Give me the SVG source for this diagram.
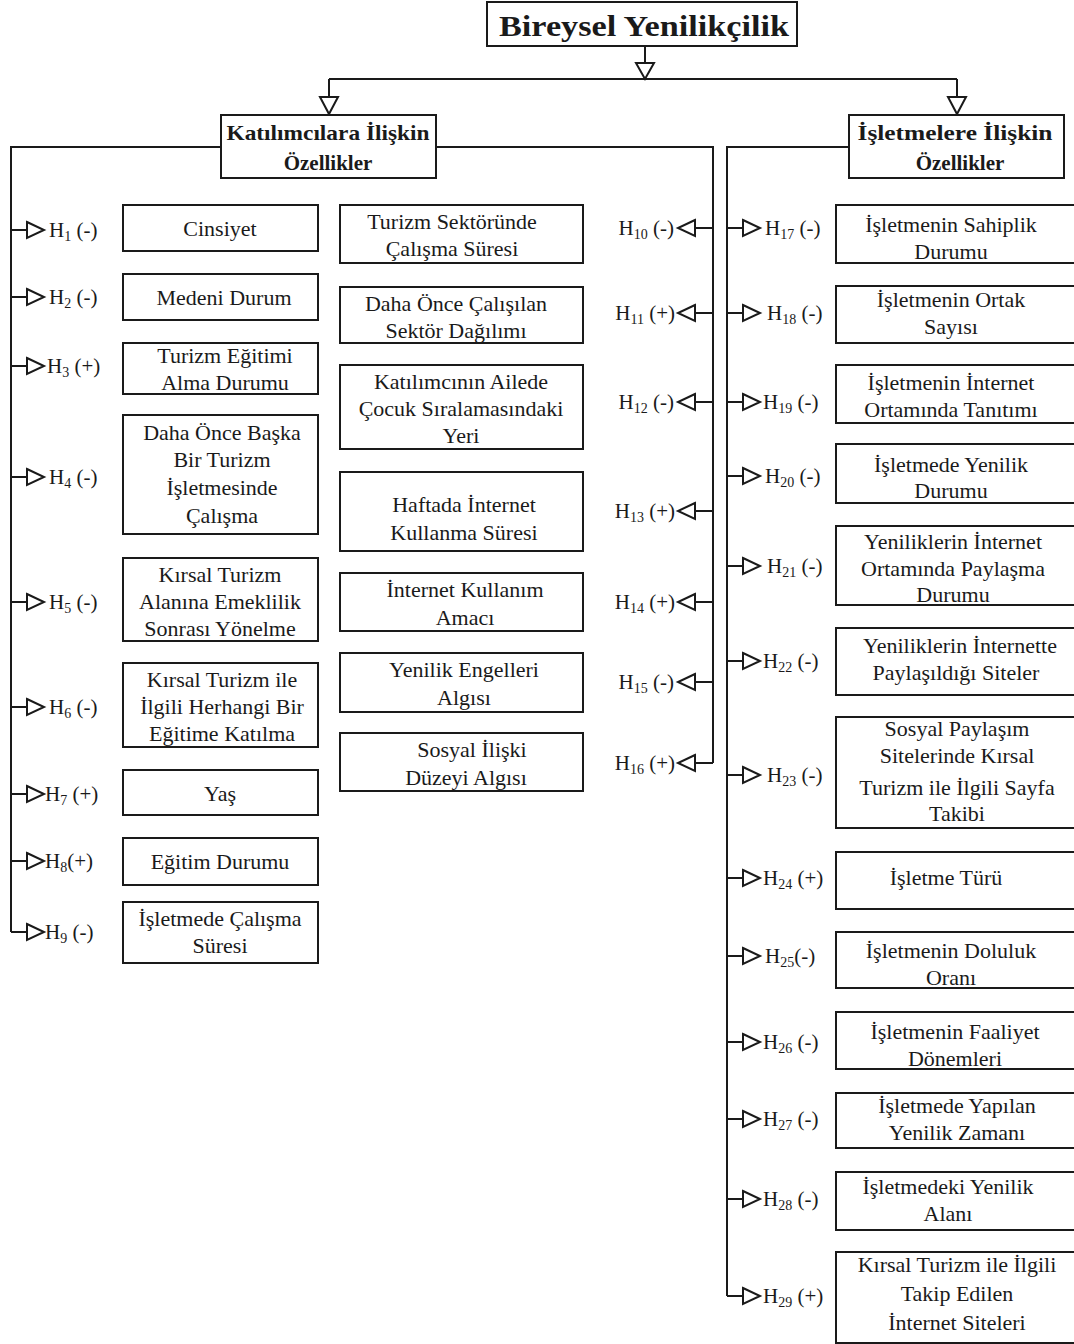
<svg xmlns="http://www.w3.org/2000/svg" width="1074" height="1344" viewBox="0 0 1074 1344">
<style>
.bx{fill:#fff;stroke:#1a1a1a;stroke-width:2}
.ln{fill:none;stroke:#1a1a1a;stroke-width:2}
.ar{fill:#fff;stroke:#1a1a1a;stroke-width:2;stroke-linejoin:miter}
.t{font-family:"Liberation Serif","DejaVu Serif",serif;font-size:22px;fill:#1a1a1a;text-anchor:middle}
.h{font-family:"Liberation Serif","DejaVu Serif",serif;font-size:21px;font-weight:bold;fill:#1a1a1a;text-anchor:middle}
.lb{font-family:"Liberation Serif","DejaVu Serif",serif;font-size:21px;fill:#1a1a1a}
.lbe{font-family:"Liberation Serif","DejaVu Serif",serif;font-size:21px;fill:#1a1a1a;text-anchor:end}
.s{font-size:14px}
</style>
<rect width="1074" height="1344" fill="#fff"/>

<g id="connectors">
  <path class="ln" d="M645,46 V63 M329,79 H957 M329,79 V97 M957,79 V97"/>
  <polygon class="ar" points="636,63 654,63 645,79"/>
  <polygon class="ar" points="320,97 338,97 329,114"/>
  <polygon class="ar" points="948,97 966,97 957,114"/>
  <path class="ln" d="M221,147 H11 V932"/>
  <path class="ln" d="M436,147 H713 V763"/>
  <path class="ln" d="M849,147 H727 V1296"/>
  <g id="left-branches">
    <path class="ln" d="M11,230 H27 M11,297 H27 M11,366 H27 M11,477 H27 M11,602 H27 M11,707 H27 M11,794 H27 M11,861 H27 M11,932 H27"/>
    <polygon class="ar" points="27,222 44,230 27,238"/>
    <polygon class="ar" points="27,289 44,297 27,305"/>
    <polygon class="ar" points="27,358 44,366 27,374"/>
    <polygon class="ar" points="27,469 44,477 27,485"/>
    <polygon class="ar" points="27,594 44,602 27,610"/>
    <polygon class="ar" points="27,699 44,707 27,715"/>
    <polygon class="ar" points="27,786 44,794 27,802"/>
    <polygon class="ar" points="27,853 44,861 27,869"/>
    <polygon class="ar" points="27,924 44,932 27,940"/>
  </g>
  <g id="middle-branches">
    <path class="ln" d="M713,228 H695 M713,313 H695 M713,402 H695 M713,511 H695 M713,602 H695 M713,682 H695 M713,763 H695"/>
    <polygon class="ar" points="695,220 678,228 695,236"/>
    <polygon class="ar" points="695,305 678,313 695,321"/>
    <polygon class="ar" points="695,394 678,402 695,410"/>
    <polygon class="ar" points="695,503 678,511 695,519"/>
    <polygon class="ar" points="695,594 678,602 695,610"/>
    <polygon class="ar" points="695,674 678,682 695,690"/>
    <polygon class="ar" points="695,755 678,763 695,771"/>
  </g>
  <g id="right-branches">
    <path class="ln" d="M727,228 H743 M727,313 H743 M727,402 H743 M727,476 H743 M727,566 H743 M727,661 H743 M727,775 H743 M727,878 H743 M727,956 H743 M727,1042 H743 M727,1119 H743 M727,1199 H743 M727,1296 H743"/>
    <polygon class="ar" points="743,220 760,228 743,236"/>
    <polygon class="ar" points="743,305 760,313 743,321"/>
    <polygon class="ar" points="743,394 760,402 743,410"/>
    <polygon class="ar" points="743,468 760,476 743,484"/>
    <polygon class="ar" points="743,558 760,566 743,574"/>
    <polygon class="ar" points="743,653 760,661 743,669"/>
    <polygon class="ar" points="743,767 760,775 743,783"/>
    <polygon class="ar" points="743,870 760,878 743,886"/>
    <polygon class="ar" points="743,948 760,956 743,964"/>
    <polygon class="ar" points="743,1034 760,1042 743,1050"/>
    <polygon class="ar" points="743,1111 760,1119 743,1127"/>
    <polygon class="ar" points="743,1191 760,1199 743,1207"/>
    <polygon class="ar" points="743,1288 760,1296 743,1304"/>
  </g>
  <g id="labels">
    <text class="lb" x="49" y="237">H<tspan class="s" dy="4">1</tspan><tspan dy="-4"> (-)</tspan></text>
    <text class="lb" x="49" y="304">H<tspan class="s" dy="4">2</tspan><tspan dy="-4"> (-)</tspan></text>
    <text class="lb" x="47" y="373">H<tspan class="s" dy="4">3</tspan><tspan dy="-4"> (+)</tspan></text>
    <text class="lb" x="49" y="484">H<tspan class="s" dy="4">4</tspan><tspan dy="-4"> (-)</tspan></text>
    <text class="lb" x="49" y="609">H<tspan class="s" dy="4">5</tspan><tspan dy="-4"> (-)</tspan></text>
    <text class="lb" x="49" y="714">H<tspan class="s" dy="4">6</tspan><tspan dy="-4"> (-)</tspan></text>
    <text class="lb" x="45" y="801">H<tspan class="s" dy="4">7</tspan><tspan dy="-4"> (+)</tspan></text>
    <text class="lb" x="45" y="868">H<tspan class="s" dy="4">8</tspan><tspan dy="-4">(+)</tspan></text>
    <text class="lb" x="45" y="939">H<tspan class="s" dy="4">9</tspan><tspan dy="-4"> (-)</tspan></text>

    <text class="lbe" x="674" y="235">H<tspan class="s" dy="4">10</tspan><tspan dy="-4"> (-)</tspan></text>
    <text class="lbe" x="675" y="320">H<tspan class="s" dy="4">11</tspan><tspan dy="-4"> (+)</tspan></text>
    <text class="lbe" x="674" y="409">H<tspan class="s" dy="4">12</tspan><tspan dy="-4"> (-)</tspan></text>
    <text class="lbe" x="675" y="518">H<tspan class="s" dy="4">13</tspan><tspan dy="-4"> (+)</tspan></text>
    <text class="lbe" x="675" y="609">H<tspan class="s" dy="4">14</tspan><tspan dy="-4"> (+)</tspan></text>
    <text class="lbe" x="674" y="689">H<tspan class="s" dy="4">15</tspan><tspan dy="-4"> (-)</tspan></text>
    <text class="lbe" x="675" y="770">H<tspan class="s" dy="4">16</tspan><tspan dy="-4"> (+)</tspan></text>

    <text class="lb" x="765" y="235">H<tspan class="s" dy="4">17</tspan><tspan dy="-4"> (-)</tspan></text>
    <text class="lb" x="767" y="320">H<tspan class="s" dy="4">18</tspan><tspan dy="-4"> (-)</tspan></text>
    <text class="lb" x="763" y="409">H<tspan class="s" dy="4">19</tspan><tspan dy="-4"> (-)</tspan></text>
    <text class="lb" x="765" y="483">H<tspan class="s" dy="4">20</tspan><tspan dy="-4"> (-)</tspan></text>
    <text class="lb" x="767" y="573">H<tspan class="s" dy="4">21</tspan><tspan dy="-4"> (-)</tspan></text>
    <text class="lb" x="763" y="668">H<tspan class="s" dy="4">22</tspan><tspan dy="-4"> (-)</tspan></text>
    <text class="lb" x="767" y="782">H<tspan class="s" dy="4">23</tspan><tspan dy="-4"> (-)</tspan></text>
    <text class="lb" x="763" y="885">H<tspan class="s" dy="4">24</tspan><tspan dy="-4"> (+)</tspan></text>
    <text class="lb" x="765" y="963">H<tspan class="s" dy="4">25</tspan><tspan dy="-4">(-)</tspan></text>
    <text class="lb" x="763" y="1049">H<tspan class="s" dy="4">26</tspan><tspan dy="-4"> (-)</tspan></text>
    <text class="lb" x="763" y="1126">H<tspan class="s" dy="4">27</tspan><tspan dy="-4"> (-)</tspan></text>
    <text class="lb" x="763" y="1206">H<tspan class="s" dy="4">28</tspan><tspan dy="-4"> (-)</tspan></text>
    <text class="lb" x="763" y="1303">H<tspan class="s" dy="4">29</tspan><tspan dy="-4"> (+)</tspan></text>
  </g>
</g>

<g id="root">
  <rect class="bx" x="487" y="2" width="310" height="44"/>
  <text class="h" x="644" y="36" style="font-size:30px" textLength="290" lengthAdjust="spacingAndGlyphs">Bireysel Yenilikçilik</text>
</g>
<g id="katilimcilara">
  <rect class="bx" x="221" y="115" width="215" height="63"/>
  <text class="h" x="328" y="140" textLength="203" lengthAdjust="spacingAndGlyphs">Katılımcılara İlişkin</text>
  <text class="h" x="328" y="170">Özellikler</text>
</g>
<g id="isletmelere">
  <rect class="bx" x="849" y="115" width="215" height="63"/>
  <text class="h" x="955" y="140" textLength="195" lengthAdjust="spacingAndGlyphs">İşletmelere İlişkin</text>
  <text class="h" x="960" y="170">Özellikler</text>
</g>

<g id="cinsiyet"><rect class="bx" x="123" y="205" width="195" height="46"/><text class="t" x="220" y="236">Cinsiyet</text></g>
<g id="medeni-durum"><rect class="bx" x="123" y="274" width="195" height="46"/><text class="t" x="224" y="305">Medeni Durum</text></g>
<g id="turizm-egitimi"><rect class="bx" x="123" y="343" width="195" height="51"/><text class="t" x="225" y="363">Turizm Eğitimi</text><text class="t" x="225" y="390">Alma Durumu</text></g>
<g id="baska-isletme"><rect class="bx" x="123" y="415" width="195" height="119"/><text class="t" x="222" y="440">Daha Önce Başka</text><text class="t" x="222" y="467">Bir Turizm</text><text class="t" x="222" y="495">İşletmesinde</text><text class="t" x="222" y="523">Çalışma</text></g>
<g id="emeklilik"><rect class="bx" x="123" y="558" width="195" height="83"/><text class="t" x="220" y="582">Kırsal Turizm</text><text class="t" x="220" y="609">Alanına Emeklilik</text><text class="t" x="220" y="636">Sonrası Yönelme</text></g>
<g id="egitime-katilma"><rect class="bx" x="123" y="663" width="195" height="84"/><text class="t" x="222" y="687">Kırsal Turizm ile</text><text class="t" x="222" y="714">İlgili Herhangi Bir</text><text class="t" x="222" y="741">Eğitime Katılma</text></g>
<g id="yas"><rect class="bx" x="123" y="770" width="195" height="45"/><text class="t" x="220" y="801">Yaş</text></g>
<g id="egitim-durumu"><rect class="bx" x="123" y="838" width="195" height="47"/><text class="t" x="220" y="869">Eğitim Durumu</text></g>
<g id="calisma-suresi"><rect class="bx" x="123" y="902" width="195" height="61"/><text class="t" x="220" y="926">İşletmede Çalışma</text><text class="t" x="220" y="953">Süresi</text></g>

<g id="sektor-suresi"><rect class="bx" x="340" y="205" width="243" height="58"/><text class="t" x="452" y="229">Turizm Sektöründe</text><text class="t" x="452" y="256">Çalışma Süresi</text></g>
<g id="sektor-dagilimi"><rect class="bx" x="340" y="287" width="243" height="56"/><text class="t" x="456" y="311">Daha Önce Çalışılan</text><text class="t" x="456" y="338">Sektör Dağılımı</text></g>
<g id="cocuk-sirasi"><rect class="bx" x="340" y="365" width="243" height="84"/><text class="t" x="461" y="389">Katılımcının Ailede</text><text class="t" x="461" y="416">Çocuk Sıralamasındaki</text><text class="t" x="461" y="443">Yeri</text></g>
<g id="internet-suresi"><rect class="bx" x="340" y="472" width="243" height="79"/><text class="t" x="464" y="512">Haftada  İnternet</text><text class="t" x="464" y="540">Kullanma Süresi</text></g>
<g id="internet-amaci"><rect class="bx" x="340" y="573" width="243" height="58"/><text class="t" x="465" y="597">İnternet Kullanım</text><text class="t" x="465" y="625">Amacı</text></g>
<g id="yenilik-engelleri"><rect class="bx" x="340" y="653" width="243" height="59"/><text class="t" x="464" y="677">Yenilik Engelleri</text><text class="t" x="464" y="705">Algısı</text></g>
<g id="sosyal-iliski"><rect class="bx" x="340" y="733" width="243" height="58"/><text class="t" x="472" y="757">Sosyal İlişki</text><text class="t" x="466" y="785">Düzeyi Algısı</text></g>

<g id="sahiplik"><rect class="bx" x="836" y="205" width="260" height="58"/><text class="t" x="951" y="232">İşletmenin Sahiplik</text><text class="t" x="951" y="259">Durumu</text></g>
<g id="ortak-sayisi"><rect class="bx" x="836" y="286" width="260" height="57"/><text class="t" x="951" y="307">İşletmenin Ortak</text><text class="t" x="951" y="334">Sayısı</text></g>
<g id="internet-tanitimi"><rect class="bx" x="836" y="365" width="260" height="58"/><text class="t" x="951" y="390">İşletmenin İnternet</text><text class="t" x="951" y="417">Ortamında Tanıtımı</text></g>
<g id="yenilik-durumu"><rect class="bx" x="836" y="444" width="260" height="59"/><text class="t" x="951" y="472">İşletmede Yenilik</text><text class="t" x="951" y="498">Durumu</text></g>
<g id="paylasma-durumu"><rect class="bx" x="836" y="526" width="260" height="79"/><text class="t" x="953" y="549">Yeniliklerin İnternet</text><text class="t" x="953" y="576">Ortamında Paylaşma</text><text class="t" x="953" y="602">Durumu</text></g>
<g id="paylasilan-siteler"><rect class="bx" x="836" y="628" width="260" height="67"/><text class="t" x="960" y="653">Yeniliklerin İnternette</text><text class="t" x="956" y="680">Paylaşıldığı Siteler</text></g>
<g id="sayfa-takibi"><rect class="bx" x="836" y="717" width="260" height="111"/><text class="t" x="957" y="736">Sosyal Paylaşım</text><text class="t" x="957" y="763">Sitelerinde Kırsal</text><text class="t" x="957" y="795">Turizm ile İlgili Sayfa</text><text class="t" x="957" y="821">Takibi</text></g>
<g id="isletme-turu"><rect class="bx" x="836" y="852" width="260" height="57"/><text class="t" x="946" y="885">İşletme Türü</text></g>
<g id="doluluk"><rect class="bx" x="836" y="932" width="260" height="56"/><text class="t" x="951" y="958">İşletmenin Doluluk</text><text class="t" x="951" y="985">Oranı</text></g>
<g id="faaliyet"><rect class="bx" x="836" y="1012" width="260" height="57"/><text class="t" x="955" y="1039">İşletmenin Faaliyet</text><text class="t" x="955" y="1066">Dönemleri</text></g>
<g id="yenilik-zamani"><rect class="bx" x="836" y="1093" width="260" height="55"/><text class="t" x="957" y="1113">İşletmede Yapılan</text><text class="t" x="957" y="1140">Yenilik Zamanı</text></g>
<g id="yenilik-alani"><rect class="bx" x="836" y="1172" width="260" height="58"/><text class="t" x="948" y="1194">İşletmedeki Yenilik</text><text class="t" x="948" y="1221">Alanı</text></g>
<g id="takip-siteler"><rect class="bx" x="836" y="1252" width="260" height="91"/><text class="t" x="957" y="1272">Kırsal Turizm ile İlgili</text><text class="t" x="957" y="1301">Takip Edilen</text><text class="t" x="957" y="1330">İnternet Siteleri</text></g>
</svg>
